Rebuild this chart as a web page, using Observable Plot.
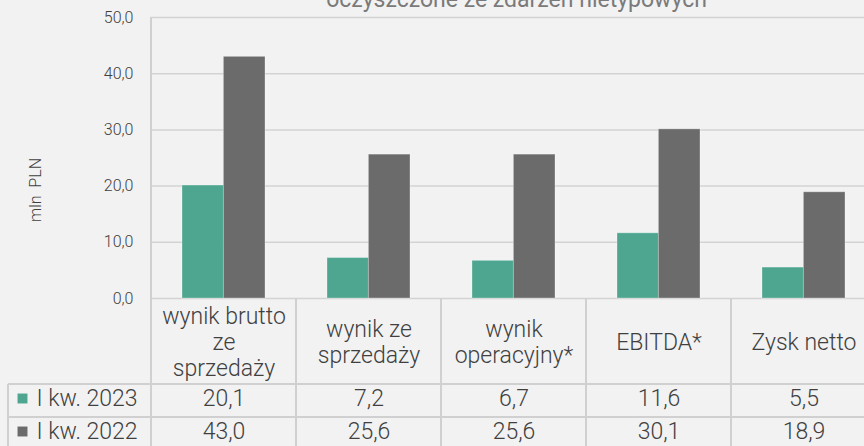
<!DOCTYPE html>
<html><head><meta charset="utf-8">
<script src="https://cdn.jsdelivr.net/npm/d3@7"></script>
<script src="https://cdn.jsdelivr.net/npm/@observablehq/plot@0.6"></script>
<style>
html,body{margin:0;padding:0;background:#f2f2f2;overflow:hidden}
#chart svg{display:block}
</style></head><body><div id="chart"></div>
<script>
const categories = ["wynik brutto\nze\nsprzedaży", "wynik ze\nsprzedaży", "wynik\noperacyjny*", "EBITDA*", "Zysk netto"];
const seriesNames = ["I kw. 2023", "I kw. 2022"];
const values2023 = [20.1, 7.2, 6.7, 11.6, 5.5];
const values2022 = [43.0, 25.6, 25.6, 30.1, 18.9];
const yTicks = [0, 10, 20, 30, 40, 50];
const yLabel = "mln  PLN";
const titleLine = "oczyszczone ze zdarzeń nietypowych";
const colors = ["#4ea690", "#6b6b6b"];

const W = 864, H = 446;
const xRange = [150, 876];
const padInner = 0.43;
const step = (xRange[1] - xRange[0]) / categories.length;
const half = step * (1 - padInner) / 2;
const fmt = v => v.toFixed(1).replace(".", ",");
const font = "Roboto, 'Noto Sans', sans-serif";
const textColor = "#404040";
const seriesValues = [values2023, values2022];
const rows = categories.map((c, i) => ({cat: c, v0: values2023[i], v1: values2022[i]}));
const headerDy = 43, rowDy = [100, 133];
const tableFont = 23;

const marks = [
  Plot.ruleY(yTicks, {stroke: "#d3d3d3", strokeWidth: 1.5}),
  Plot.barY(rows, {x: "cat", y: "v0", fill: colors[0], insetRight: half, stroke: "#ffffff", strokeOpacity: 0.3}),
  Plot.barY(rows, {x: "cat", y: "v1", fill: colors[1], insetLeft: half, stroke: "#ffffff", strokeOpacity: 0.3}),
  Plot.text(categories, {x: d => d, y: () => 0, dy: headerDy, text: d => d, fontSize: tableFont, lineHeight: 1.12, fill: textColor}),
  Plot.text([titleLine], {frameAnchor: "top", dx: 9, dy: -27, fontSize: 23, fill: "#7a7a7a", fontWeight: 400}),
  Plot.text([yLabel], {frameAnchor: "left", dx: 35 - 150, dy: 32, rotate: -90, textAnchor: "middle", fontSize: 16, fill: textColor})
];
seriesNames.forEach((s, k) => {
  marks.push(Plot.text(rows, {x: "cat", y: () => 0, dy: rowDy[k], text: d => fmt(seriesValues[k][categories.indexOf(d.cat)]), fontSize: tableFont, fill: textColor}));
  marks.push(Plot.text([s], {frameAnchor: "left", y: () => 0, dx: 36 - 150, dy: rowDy[k], textAnchor: "start", fontSize: tableFont, fill: textColor}));
  marks.push(Plot.dot([s], {frameAnchor: "left", y: () => 0, dx: 22 - 150, dy: rowDy[k], symbol: "square", r: 5.6, fill: colors[k], stroke: "none"}));
});

const chart = Plot.plot({
  width: W, height: H,
  marginLeft: 150, marginRight: 0, marginTop: 17, marginBottom: 148,
  style: {background: "#f2f2f2", fontFamily: font, fontSize: "16px", color: textColor, fontWeight: 300},
  x: {type: "band", domain: categories, range: xRange, paddingInner: padInner, paddingOuter: padInner / 2, axis: null},
  y: {domain: [0, 50], ticks: yTicks, tickFormat: fmt, tickSize: 0, tickPadding: 17, label: null},
  marks
});
document.getElementById("chart").appendChild(chart);

// table grid lines, positioned from Plot's own scales
const xs = chart.scale("x"), ys = chart.scale("y");
const bw = xs.bandwidth != null ? xs.bandwidth : step * (1 - padInner);
const st = xs.apply(categories[1]) - xs.apply(categories[0]);
const edges = categories.map(c => xs.apply(c) - (st - bw) / 2);
const y0 = ys.apply(0), yTop = ys.apply(50);
const yRow1 = y0 + 86, yRow2 = y0 + 119;
const g = d3.select(chart).append("g").attr("stroke", "#d0d0d0").attr("stroke-width", 2).attr("fill", "none");
g.append("line").attr("x1", edges[0]).attr("x2", edges[0]).attr("y1", yTop).attr("y2", H);
edges.slice(1).forEach(x => g.append("line").attr("x1", x).attr("x2", x).attr("y1", y0).attr("y2", H));
[yRow1, yRow2].forEach(y => g.append("line").attr("x1", 8).attr("x2", W).attr("y1", y).attr("y2", y));
g.append("line").attr("x1", 8).attr("x2", 8).attr("y1", yRow1).attr("y2", H);
</script></body></html>
